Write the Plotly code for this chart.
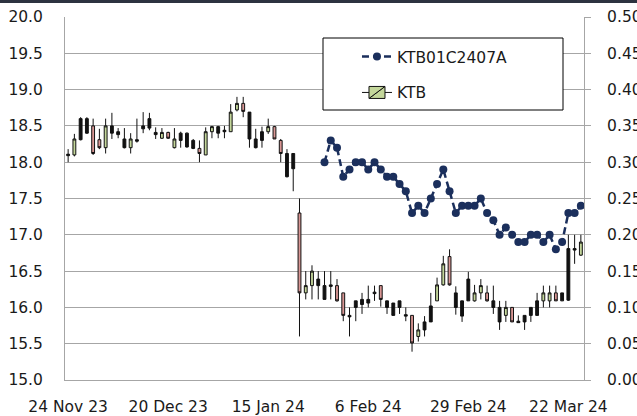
import plotly.graph_objects as go

# ---------------- data ----------------
dates = [
    "2023-11-24", "2023-11-27", "2023-11-28", "2023-11-30", "2023-12-01", "2023-12-04",
    "2023-12-05", "2023-12-06", "2023-12-07", "2023-12-08", "2023-12-11", "2023-12-12",
    "2023-12-14", "2023-12-15", "2023-12-18", "2023-12-19", "2023-12-20", "2023-12-21",
    "2023-12-22", "2023-12-26", "2023-12-27", "2023-12-28", "2023-12-29", "2024-01-02",
    "2024-01-03", "2024-01-04", "2024-01-05", "2024-01-08", "2024-01-09", "2024-01-10",
    "2024-01-11", "2024-01-12", "2024-01-15", "2024-01-16", "2024-01-17", "2024-01-18",
    "2024-01-19", "2024-01-22", "2024-01-23", "2024-01-24", "2024-01-25", "2024-01-26",
    "2024-01-29", "2024-01-30", "2024-01-31", "2024-02-01", "2024-02-02", "2024-02-05",
    "2024-02-06", "2024-02-07", "2024-02-08", "2024-02-09", "2024-02-13", "2024-02-14",
    "2024-02-15", "2024-02-16", "2024-02-19", "2024-02-20", "2024-02-21", "2024-02-22",
    "2024-02-23", "2024-02-26", "2024-02-27", "2024-02-28", "2024-02-29", "2024-03-01",
    "2024-03-04", "2024-03-05", "2024-03-06", "2024-03-07", "2024-03-08", "2024-03-11",
    "2024-03-12", "2024-03-13", "2024-03-14", "2024-03-15", "2024-03-18", "2024-03-19",
    "2024-03-20", "2024-03-21", "2024-03-22", "2024-03-25", "2024-03-26",
]

ktb_open = [
    18.09, 18.10, 18.31, 18.60, 18.50, 18.31, 18.20, 18.50, 18.42, 18.32,
    18.20, 18.31, 18.50, 18.47, 18.41, 18.33, 18.41, 18.20, 18.40, 18.40,
    18.30, 18.19, 18.10, 18.42, 18.49, 18.42, 18.42, 18.72, 18.81, 18.69,
    18.32, 18.42, 18.42, 18.49, 18.30, 18.12, 18.12, 17.30, 16.20, 16.30,
    16.39, 16.30, 16.31, 16.30, 16.20, 15.89, 16.09, 16.11, 16.06, 16.21,
    16.30, 16.09, 16.06, 16.09, 15.90, 15.89, 15.60, 15.69, 15.80, 16.09,
    16.31, 16.70, 16.20, 16.09, 16.09, 16.09, 16.20, 16.20, 16.09, 16.00,
    15.89, 16.00, 15.81, 15.80, 15.89, 15.89, 16.09, 16.09, 16.20, 16.09,
    16.10, 16.81, 16.72,
]
ktb_high = [
    18.18, 18.39, 18.62, 18.62, 18.60, 18.46, 18.60, 18.68, 18.47, 18.47,
    18.40, 18.60, 18.69, 18.68, 18.48, 18.47, 18.42, 18.47, 18.42, 18.41,
    18.32, 18.30, 18.48, 18.50, 18.50, 18.50, 18.80, 18.90, 18.90, 18.69,
    18.46, 18.49, 18.60, 18.50, 18.32, 18.18, 18.12, 17.50, 16.50, 16.58,
    16.50, 16.50, 16.50, 16.39, 16.20, 16.00, 16.09, 16.20, 16.30, 16.30,
    16.30, 16.09, 16.06, 16.09, 16.00, 15.89, 15.78, 15.88, 16.20, 16.41,
    16.71, 16.80, 16.29, 16.09, 16.49, 16.31, 16.39, 16.30, 16.30, 16.09,
    16.09, 16.00, 15.89, 15.89, 16.00, 16.20, 16.30, 16.30, 16.30, 16.20,
    17.00, 17.00, 17.00,
]
ktb_low = [
    18.00, 18.08, 18.30, 18.39, 18.10, 18.18, 18.12, 18.32, 18.33, 18.19,
    18.12, 18.27, 18.40, 18.44, 18.32, 18.32, 18.32, 18.19, 18.20, 18.20,
    18.18, 18.00, 18.10, 18.33, 18.33, 18.33, 18.42, 18.70, 18.62, 18.20,
    18.19, 18.20, 18.39, 18.32, 18.00, 17.79, 17.60, 15.60, 16.11, 16.11,
    16.11, 16.11, 16.11, 16.08, 15.81, 15.60, 15.81, 15.91, 16.00, 16.09,
    16.01, 15.91, 15.89, 15.91, 15.81, 15.39, 15.53, 15.60, 15.80, 16.09,
    16.30, 16.30, 15.90, 15.80, 16.09, 16.08, 16.11, 16.08, 15.91, 15.69,
    15.80, 15.80, 15.79, 15.69, 15.80, 15.89, 16.00, 16.00, 16.09, 16.09,
    16.09, 16.60, 16.71,
]
ktb_close = [
    18.11, 18.32, 18.60, 18.40, 18.12, 18.20, 18.50, 18.40, 18.38, 18.20,
    18.32, 18.29, 18.46, 18.60, 18.38, 18.41, 18.33, 18.32, 18.30, 18.21,
    18.19, 18.12, 18.42, 18.49, 18.40, 18.44, 18.69, 18.81, 18.70, 18.32,
    18.20, 18.30, 18.49, 18.32, 18.12, 17.80, 17.91, 16.20, 16.30, 16.50,
    16.30, 16.11, 16.29, 16.09, 15.89, 15.87, 16.00, 16.04, 16.11, 16.19,
    16.11, 16.00, 15.89, 16.00, 15.88, 15.51, 15.69, 15.80, 16.02, 16.31,
    16.60, 16.31, 16.00, 15.88, 16.39, 16.20, 16.30, 16.09, 16.00, 15.80,
    16.00, 15.80, 15.79, 15.89, 16.00, 16.09, 16.20, 16.20, 16.09, 16.20,
    16.81, 16.79, 16.90,
]

option_values = [None] * 41 + [
    0.30, 0.33, 0.32, 0.28, 0.29, 0.30, 0.30, 0.29, 0.30, 0.29,
    0.28, 0.28, 0.27, 0.26, 0.23, 0.24, 0.23, 0.25, 0.27, 0.29,
    0.26, 0.23, 0.24, 0.24, 0.24, 0.25, 0.23, 0.22, 0.20, 0.21,
    0.20, 0.19, 0.19, 0.20, 0.20, 0.19, 0.20, 0.18, 0.19, 0.23,
    0.23, 0.24,
]

tick_dates = ["2023-11-24", "2023-12-20", "2024-01-15", "2024-02-06", "2024-02-29", "2024-03-22"]
tick_labels = ["24 Nov 23", "20 Dec 23", "15 Jan 24", "6 Feb 24", "29 Feb 24", "22 Mar 24"]

# ---------------- styling ----------------
FONT = "DejaVu Sans"
FS = 15.5
GREEN = "#c4d79b"
RED = "#d99694"
NAVY = "#1b2f5c"
GRID = "#a6a6a6"

# bars that render as solid dark candles in the source chart
dark_bars = {0, 2, 3, 7, 8, 9, 11, 12, 13, 14, 18, 19, 20, 24, 25, 29, 30, 31, 35, 36,
             40, 41, 42, 45, 46, 47, 48, 49, 51, 52, 53, 54, 57, 58, 62, 63, 64, 68, 69,
             72, 73, 74, 75, 79, 80, 81}

n = len(dates)
up_idx = [i for i in range(n) if i not in dark_bars and ktb_close[i] >= ktb_open[i]]
dn_idx = [i for i in range(n) if i not in dark_bars and ktb_close[i] < ktb_open[i]]
dk_idx = [i for i in range(n) if i in dark_bars]


def sub(arr, idx):
    return [arr[i] for i in idx]


def candle(idx, fill, name, showlegend, legend=None):
    return go.Candlestick(
        x=sub(dates, idx), open=sub(ktb_open, idx), high=sub(ktb_high, idx),
        low=sub(ktb_low, idx), close=sub(ktb_close, idx),
        name=name, showlegend=showlegend, legend=legend,
        increasing=dict(fillcolor=fill, line=dict(color="#111111", width=1)),
        decreasing=dict(fillcolor=fill, line=dict(color="#111111", width=1)),
        hoverinfo="skip",
    )


fig = go.Figure()
fig.add_trace(go.Scatter(
    x=dates, y=option_values, yaxis="y2", name="KTB01C2407A",
    mode="lines+markers", connectgaps=False,
    line=dict(color=NAVY, width=2.5, dash="7px,4px"),
    marker=dict(color=NAVY, size=8, symbol="circle"),
    legend="legend",
))
fig.add_trace(candle(up_idx, GREEN, "KTB", True, "legend2"))
fig.add_trace(candle(dn_idx, RED, "KTB", False))
fig.add_trace(candle(dk_idx, "#111111", "KTB", False))

fig.update_layout(
    width=637, height=416,
    margin=dict(l=65, r=53, t=17, b=36),
    paper_bgcolor="white", plot_bgcolor="white",
    font=dict(family=FONT, size=FS, color="#1a1a1a"),
    boxgap=0.35,
    xaxis=dict(
        type="category", categoryorder="array", categoryarray=dates,
        range=[-0.5, n - 0.5], rangeslider=dict(visible=False),
        tickmode="array", tickvals=tick_dates, ticktext=tick_labels,
        showgrid=False, showline=True, linecolor=GRID, linewidth=1,
        ticks="", ticklabelstandoff=12, automargin=False,
    ),
    yaxis=dict(
        range=[15, 20], dtick=0.5, tickformat=".1f",
        showgrid=True, gridcolor=GRID, gridwidth=1,
        showline=True, linecolor=GRID, linewidth=1,
        ticks="", ticklabelstandoff=18, zeroline=False, automargin=False,
    ),
    yaxis2=dict(
        range=[0, 0.5], dtick=0.05, tickformat=".2f",
        overlaying="y", side="right", showgrid=False,
        showline=True, linecolor=GRID, linewidth=1,
        ticks="outside", ticklen=6, tickcolor=GRID,
        ticklabelstandoff=13, zeroline=False, automargin=False,
    ),
    legend=dict(x=0.5626, y=0.890, xanchor="left", yanchor="middle",
                bgcolor="rgba(0,0,0,0)", borderwidth=0, font=dict(size=FS)),
    legend2=dict(x=0.5626, y=0.791, xanchor="left", yanchor="middle",
                 bgcolor="rgba(0,0,0,0)", borderwidth=0, font=dict(size=FS)),
    shapes=[
        dict(type="rect", xref="paper", yref="paper",
             x0=(323 - 65) / 519, x1=(563 - 65) / 519,
             y0=1 - (110 - 17) / 363, y1=1 - (38 - 17) / 363,
             fillcolor="white", line=dict(color="black", width=1), layer="above"),
        dict(type="rect", xref="paper", yref="paper",
             x0=-65 / 519, x1=(637 - 65) / 519, y0=1 + 14 / 363, y1=1 + 17 / 363,
             fillcolor="#2d3340", line=dict(width=0), layer="above"),
    ],
)

fig.write_html(
    "out.html",
    config={"displayModeBar": False},
    post_script="document.body.style.margin='0px';document.body.style.overflow='hidden';",
)
